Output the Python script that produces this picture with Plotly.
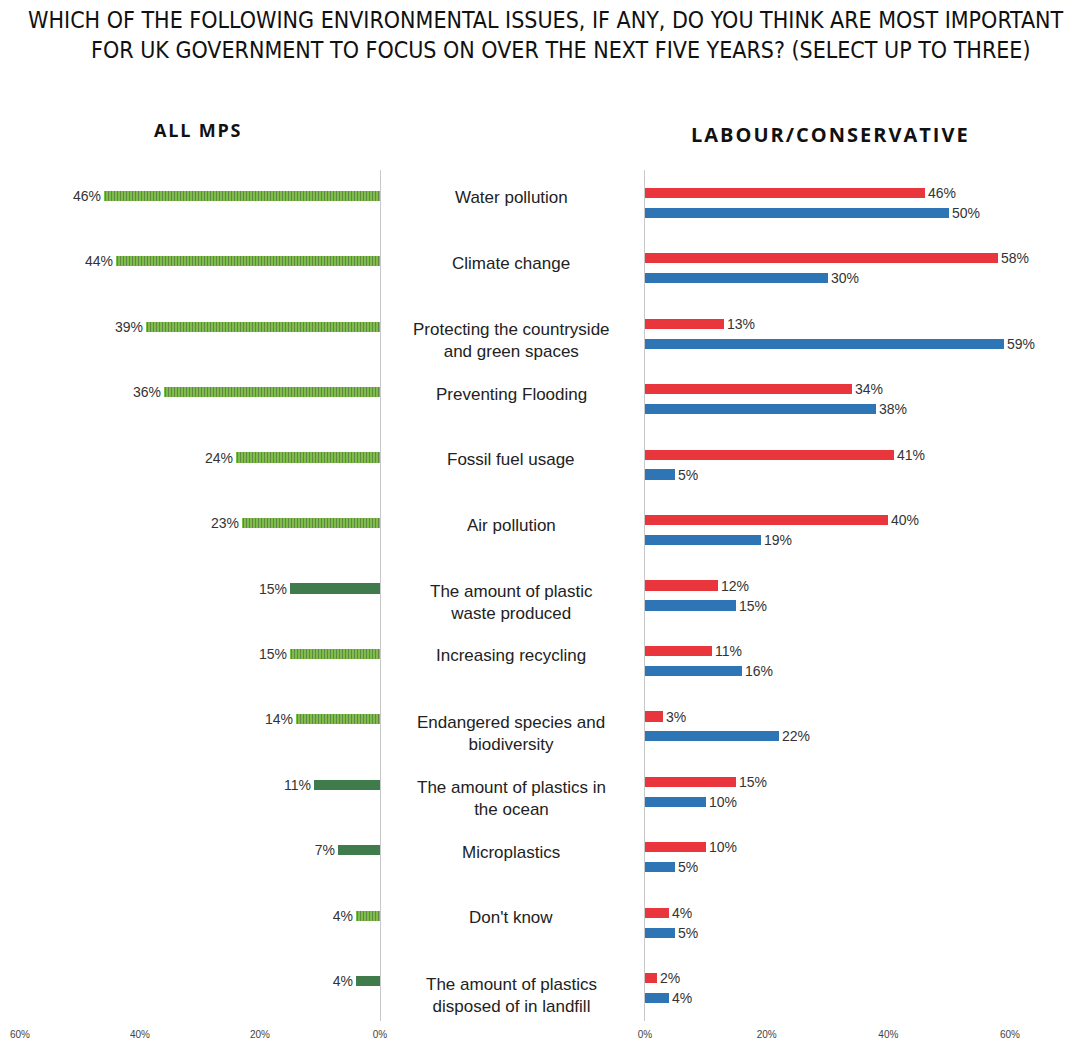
import plotly.graph_objects as go

categories = [
    "Water pollution",
    "Climate change",
    "Protecting the countryside<br>and green spaces",
    "Preventing Flooding",
    "Fossil fuel usage",
    "Air pollution",
    "The amount of plastic<br>waste produced",
    "Increasing recycling",
    "Endangered species and<br>biodiversity",
    "The amount of plastics in<br>the ocean",
    "Microplastics",
    "Don't know",
    "The amount of plastics<br>disposed of in landfill",
]
all_mps = [46, 44, 39, 36, 24, 23, 15, 15, 14, 11, 7, 4, 4]
plastic_issue = [False, False, False, False, False, False, True, False, False, True, True, False, True]
labour = [46, 58, 13, 34, 41, 40, 12, 11, 3, 15, 10, 4, 2]
conservative = [50, 30, 59, 38, 5, 19, 15, 16, 22, 10, 5, 5, 4]
tick_vals = [0, 20, 40, 60]
tick_text = ["0%", "20%", "40%", "60%"]
title_lines = [
    "WHICH OF THE FOLLOWING ENVIRONMENTAL ISSUES, IF ANY, DO YOU THINK ARE MOST IMPORTANT",
    "FOR UK GOVERNMENT TO FOCUS ON OVER THE NEXT FIVE YEARS? (SELECT UP TO THREE)",
]

W, H = 1079, 1046
rows = list(range(len(categories)))

LIGHT_GREEN = "#7DBE4A"
DARK_GREEN = "#3F7B4B"
RED = "#E8363C"
BLUE = "#2E75B6"
LABEL_FONT = "Liberation Sans"
HS = "\u200a"  # hair space for letter spacing in headings

fig = go.Figure()

value_font = dict(family=LABEL_FONT, size=14, color="#333333")

# Left panel: all MPs
fig.add_trace(go.Bar(
    x=all_mps, y=rows, orientation="h",
    xaxis="x", yaxis="y",
    width=0.155, offset=-0.185,
    marker=dict(
        color=[DARK_GREEN if p else LIGHT_GREEN for p in plastic_issue],
        line=dict(width=0),
        pattern=dict(
            shape=["" if p else "|" for p in plastic_issue],
            fgcolor="#C8E6A8", bgcolor=LIGHT_GREEN, size=3, solidity=0.3,
        ),
    ),
    text=[f"{v}%" for v in all_mps], textposition="outside", constraintext="none",
    textfont=value_font, outsidetextfont=value_font,
    cliponaxis=False, showlegend=False, hoverinfo="skip",
))

# Right panel: Labour / Conservative
fig.add_trace(go.Bar(
    x=labour, y=rows, orientation="h", name="Labour",
    xaxis="x2", yaxis="y2",
    width=0.155, offset=-0.23,
    marker=dict(color=RED, line=dict(width=0)),
    text=[f"{v}%" for v in labour], textposition="outside", constraintext="none",
    textfont=value_font, outsidetextfont=value_font,
    cliponaxis=False, showlegend=False, hoverinfo="skip",
))
fig.add_trace(go.Bar(
    x=conservative, y=rows, orientation="h", name="Conservative",
    xaxis="x2", yaxis="y2",
    width=0.155, offset=0.075,
    marker=dict(color=BLUE, line=dict(width=0)),
    text=[f"{v}%" for v in conservative], textposition="outside", constraintext="none",
    textfont=value_font, outsidetextfont=value_font,
    cliponaxis=False, showlegend=False, hoverinfo="skip",
))

# Category labels in the middle
for i, cat in enumerate(categories):
    two_line = "<br>" in cat
    fig.add_annotation(
        x=511 / W, xref="paper", y=i, yref="y",
        text=cat, showarrow=False, xanchor="center", yanchor="middle",
        yshift=-7 if two_line else 5,
        font=dict(family=LABEL_FONT, size=17, color="#222222"),
    )

# Panel headings
fig.add_annotation(x=197 / W, xref="paper", y=1 - 130 / H, yref="paper",
                   text="<b>" + HS.join("ALL MPS") + "</b>", showarrow=False,
                   xanchor="center", yanchor="middle",
                   font=dict(family="Open Sans", size=18, color="#111111"))
fig.add_annotation(x=829 / W, xref="paper", y=1 - 135 / H, yref="paper",
                   text="<b>" + HS.join("LABOUR/CONSERVATIVE") + "</b>", showarrow=False,
                   xanchor="center", yanchor="middle",
                   font=dict(family="Open Sans", size=20, color="#111111"))

# Title (two centred lines)
for line, cx, cy in zip(title_lines, [546, 561], [20, 50]):
    fig.add_annotation(x=cx / W, xref="paper", y=1 - cy / H, yref="paper",
                       text=line, showarrow=False, xanchor="center", yanchor="middle",
                       font=dict(family="DejaVu Sans Condensed", size=23, color="#111111"))

ydom = [1 - 1021 / H, 1 - 170 / H]
axis_tick_font = dict(family=LABEL_FONT, size=10, color="#444444")

fig.update_layout(
    width=W, height=H,
    margin=dict(l=0, r=0, t=0, b=0, autoexpand=False),
    paper_bgcolor="white", plot_bgcolor="white",
    xaxis=dict(domain=[20 / W, 380 / W], range=[60, 0], tickvals=tick_vals, ticktext=tick_text,
               showgrid=False, zeroline=False, showline=False, ticks="", automargin=False,
               ticklabelstandoff=6, tickfont=axis_tick_font, anchor="y", fixedrange=True),
    xaxis2=dict(domain=[645 / W, 1010 / W], range=[0, 60], tickvals=tick_vals, ticktext=tick_text,
                showgrid=False, zeroline=False, showline=False, ticks="", automargin=False,
                ticklabelstandoff=6, tickfont=axis_tick_font, anchor="y2", fixedrange=True),
    yaxis=dict(domain=ydom, range=[12.5, -0.5], showticklabels=False, showgrid=False,
               zeroline=False, showline=True, linecolor="#C8C8C8", linewidth=1, automargin=False,
               side="right", anchor="x", ticks="", fixedrange=True),
    yaxis2=dict(domain=ydom, range=[12.5, -0.5], showticklabels=False, showgrid=False,
                zeroline=False, showline=True, linecolor="#C8C8C8", linewidth=1, automargin=False,
                side="left", anchor="x2", ticks="", fixedrange=True),
    bargap=0,
)

fig.write_html("out.html")
